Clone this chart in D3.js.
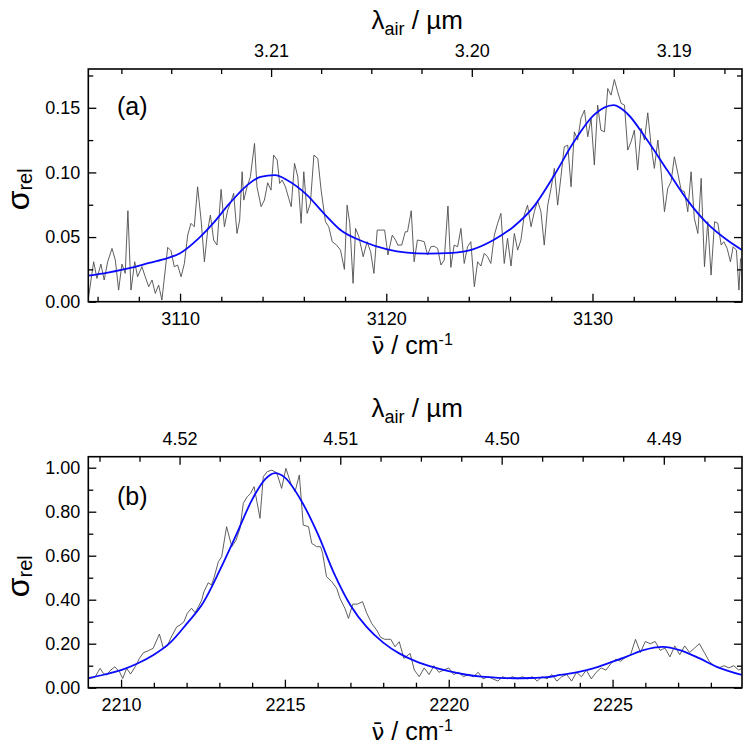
<!DOCTYPE html>
<html><head><meta charset="utf-8">
<script src="https://cdn.jsdelivr.net/npm/d3@7/dist/d3.min.js"></script>
<style>
body{margin:0;background:#fff}
svg{display:block}
text{font-family:"Liberation Sans",Arial,Helvetica,sans-serif;fill:#000}
</style></head>
<body><svg id="chart" width="747" height="746"></svg>
<script>
// ---------------- DATA ----------------
const N_AIR = 1.000273;

// Panel (a): measured spectrum [wavenumber cm-1, sigma_rel]
const spectrumA = [[3105.56,0.0034],[3105.81,0.0309],[3105.97,0.0180],[3106.16,0.0291],[3106.32,0.0168],[3106.49,0.0309],[3106.70,0.0412],[3106.86,0.0322],[3107.02,0.0090],[3107.18,0.0291],[3107.34,0.0219],[3107.47,0.0704],[3107.62,0.0090],[3107.80,0.0309],[3107.94,0.0193],[3108.15,0.0271],[3108.31,0.0193],[3108.48,0.0116],[3108.64,0.0168],[3108.80,0.0064],[3108.96,0.0129],[3109.12,0.0013],[3109.40,0.0420],[3109.56,0.0394],[3109.72,0.0271],[3109.88,0.0284],[3110.05,0.0193],[3110.21,0.0296],[3110.37,0.0515],[3110.53,0.0606],[3110.69,0.0580],[3110.85,0.0889],[3111.02,0.0631],[3111.18,0.0309],[3111.34,0.0554],[3111.47,0.0670],[3111.63,0.0477],[3111.79,0.0438],[3111.99,0.0869],[3112.15,0.0580],[3112.31,0.0709],[3112.44,0.0760],[3112.60,0.0838],[3112.76,0.0528],[3112.89,0.0631],[3113.01,0.1005],[3113.09,0.0786],[3113.25,0.0889],[3113.41,0.0966],[3113.61,0.1224],[3113.73,0.0889],[3113.93,0.0735],[3114.09,0.0786],[3114.25,0.0920],[3114.41,0.0863],[3114.54,0.1134],[3114.71,0.1095],[3114.83,0.0915],[3114.95,0.0941],[3115.11,0.0889],[3115.27,0.0799],[3115.39,0.0735],[3115.55,0.1070],[3115.71,0.0966],[3115.87,0.0606],[3116.00,0.1005],[3116.16,0.0683],[3116.32,0.0760],[3116.49,0.1134],[3116.68,0.1108],[3116.84,0.0863],[3117.05,0.0619],[3117.21,0.0580],[3117.38,0.0464],[3117.59,0.0438],[3117.78,0.0399],[3117.97,0.0250],[3118.10,0.0747],[3118.23,0.0606],[3118.39,0.0142],[3118.51,0.0567],[3118.67,0.0503],[3118.88,0.0348],[3119.07,0.0464],[3119.24,0.0387],[3119.40,0.0219],[3119.56,0.0554],[3119.72,0.0554],[3119.92,0.0554],[3120.08,0.0361],[3120.29,0.0515],[3120.45,0.0477],[3120.56,0.0438],[3120.75,0.0438],[3120.92,0.0541],[3121.03,0.0541],[3121.21,0.0704],[3121.35,0.0309],[3121.51,0.0477],[3121.68,0.0472],[3121.84,0.0464],[3122.00,0.0361],[3122.16,0.0425],[3122.32,0.0430],[3122.49,0.0412],[3122.65,0.0284],[3122.81,0.0322],[3122.99,0.0740],[3123.13,0.0265],[3123.29,0.0438],[3123.46,0.0425],[3123.62,0.0567],[3123.78,0.0296],[3123.94,0.0425],[3124.10,0.0464],[3124.27,0.0116],[3124.43,0.0309],[3124.59,0.0276],[3124.75,0.0374],[3124.91,0.0348],[3125.07,0.0296],[3125.24,0.0515],[3125.40,0.0606],[3125.56,0.0683],[3125.72,0.0296],[3125.88,0.0490],[3126.05,0.0276],[3126.21,0.0528],[3126.37,0.0399],[3126.53,0.0477],[3126.69,0.0670],[3126.85,0.0747],[3127.02,0.0580],[3127.18,0.0696],[3127.34,0.0781],[3127.50,0.0696],[3127.66,0.0438],[3127.83,0.0747],[3127.99,0.0876],[3128.15,0.1031],[3128.31,0.0747],[3128.47,0.0966],[3128.63,0.1198],[3128.80,0.1211],[3128.96,0.0889],[3129.12,0.1314],[3129.28,0.1250],[3129.44,0.1418],[3129.61,0.1482],[3129.77,0.1276],[3129.93,0.1418],[3130.09,0.1057],[3130.25,0.1521],[3130.41,0.1327],[3130.58,0.1314],[3130.74,0.1649],[3130.90,0.1598],[3131.06,0.1719],[3131.22,0.1624],[3131.39,0.1534],[3131.55,0.1521],[3131.71,0.1173],[3131.87,0.1237],[3132.03,0.1327],[3132.19,0.1018],[3132.36,0.1340],[3132.52,0.1250],[3132.68,0.1461],[3132.84,0.1211],[3133.00,0.1031],[3133.17,0.1250],[3133.33,0.1005],[3133.49,0.0696],[3133.65,0.0876],[3133.81,0.0928],[3133.97,0.1121],[3134.14,0.0992],[3134.30,0.0863],[3134.46,0.0851],[3134.62,0.0696],[3134.78,0.1005],[3134.94,0.0644],[3135.11,0.0528],[3135.27,0.0954],[3135.43,0.0271],[3135.59,0.0619],[3135.75,0.0206],[3135.92,0.0619],[3136.08,0.0606],[3136.24,0.0438],[3136.37,0.0464],[3136.53,0.0412],[3136.69,0.0309],[3136.82,0.0425],[3136.98,0.0399],[3137.10,0.0090],[3137.18,0.0335]];

// Panel (a): fitted profile
const fitA = [[3105.55,0.0201],[3106.5,0.0225],[3107.7,0.0265],[3108.5,0.0300],[3109.35,0.0335],[3110.0,0.0375],[3110.9,0.0490],[3111.6,0.0606],[3112.4,0.0760],[3113.25,0.0900],[3113.9,0.0966],[3114.6,0.0979],[3115.2,0.0940],[3116.16,0.0825],[3116.97,0.0683],[3117.78,0.0554],[3118.9,0.0464],[3120.05,0.0405],[3121.0,0.0380],[3122.0,0.0372],[3123.2,0.0378],[3124.2,0.0405],[3125.2,0.0477],[3126.17,0.0580],[3127.15,0.0735],[3128.1,0.0966],[3129.1,0.1237],[3130.06,0.1443],[3131.03,0.1520],[3131.68,0.1456],[3132.65,0.1250],[3133.62,0.1018],[3134.6,0.0786],[3135.56,0.0606],[3136.53,0.0477],[3137.25,0.0400]];

// Panel (b): measured spectrum
const spectrumB = [[2209.03,0.042],[2209.20,0.047],[2209.36,0.088],[2209.46,0.065],[2209.56,0.058],[2209.66,0.077],[2209.81,0.095],[2209.95,0.073],[2210.05,0.042],[2210.17,0.088],[2210.29,0.062],[2210.43,0.095],[2210.56,0.133],[2210.68,0.159],[2210.83,0.168],[2210.98,0.179],[2211.17,0.244],[2211.29,0.179],[2211.41,0.189],[2211.51,0.224],[2211.70,0.277],[2211.80,0.285],[2211.92,0.300],[2212.02,0.338],[2212.15,0.361],[2212.26,0.341],[2212.36,0.368],[2212.46,0.398],[2212.53,0.436],[2212.66,0.477],[2212.76,0.467],[2212.84,0.502],[2212.97,0.573],[2213.07,0.595],[2213.22,0.732],[2213.38,0.641],[2213.51,0.671],[2213.63,0.724],[2213.73,0.838],[2213.85,0.868],[2213.95,0.883],[2214.06,0.914],[2214.14,0.850],[2214.24,0.770],[2214.34,0.959],[2214.46,0.982],[2214.60,0.989],[2214.75,0.977],[2214.90,0.906],[2215.03,0.997],[2215.18,0.929],[2215.31,0.891],[2215.44,0.967],[2215.56,0.739],[2215.72,0.732],[2215.82,0.656],[2215.97,0.641],[2216.09,0.641],[2216.15,0.611],[2216.27,0.505],[2216.43,0.482],[2216.58,0.452],[2216.68,0.406],[2216.83,0.361],[2216.94,0.315],[2217.07,0.380],[2217.21,0.380],[2217.37,0.391],[2217.50,0.338],[2217.65,0.292],[2217.80,0.262],[2217.92,0.229],[2218.05,0.220],[2218.23,0.220],[2218.36,0.186],[2218.49,0.209],[2218.63,0.133],[2218.82,0.156],[2218.95,0.080],[2219.10,0.050],[2219.25,0.090],[2219.40,0.060],[2219.55,0.100],[2219.70,0.070],[2219.85,0.080],[2220.00,0.090],[2220.15,0.060],[2220.30,0.070],[2220.45,0.050],[2220.60,0.060],[2220.75,0.050],[2220.90,0.070],[2221.05,0.040],[2221.20,0.050],[2221.35,0.040],[2221.50,0.030],[2221.65,0.050],[2221.80,0.040],[2221.95,0.050],[2222.10,0.040],[2222.25,0.050],[2222.40,0.040],[2222.55,0.050],[2222.70,0.030],[2222.85,0.050],[2223.00,0.040],[2223.15,0.060],[2223.30,0.030],[2223.45,0.050],[2223.60,0.060],[2223.75,0.030],[2223.90,0.070],[2224.05,0.050],[2224.20,0.080],[2224.35,0.040],[2224.50,0.070],[2224.65,0.090],[2224.80,0.080],[2224.95,0.110],[2225.10,0.130],[2225.25,0.120],[2225.40,0.140],[2225.55,0.150],[2225.70,0.220],[2225.85,0.160],[2226.00,0.210],[2226.15,0.200],[2226.30,0.210],[2226.45,0.170],[2226.60,0.180],[2226.75,0.140],[2226.90,0.190],[2227.05,0.150],[2227.20,0.190],[2227.35,0.160],[2227.50,0.180],[2227.65,0.200],[2227.80,0.160],[2227.95,0.120],[2228.10,0.100],[2228.25,0.090],[2228.40,0.100],[2228.55,0.090],[2228.70,0.100],[2228.85,0.080],[2228.97,0.090]];

// Panel (b): fitted profile
const fitB = [[2209.0,0.044],[2209.5,0.060],[2210.0,0.080],[2210.5,0.110],[2211.0,0.150],[2211.5,0.205],[2212.0,0.290],[2212.5,0.385],[2213.0,0.530],[2213.5,0.690],[2214.0,0.855],[2214.4,0.948],[2214.7,0.975],[2215.0,0.955],[2215.5,0.850],[2216.0,0.700],[2216.5,0.520],[2217.0,0.375],[2217.5,0.275],[2218.0,0.205],[2218.5,0.155],[2219.0,0.120],[2219.5,0.095],[2220.0,0.075],[2220.5,0.060],[2221.0,0.050],[2221.5,0.045],[2222.0,0.043],[2222.5,0.044],[2223.0,0.048],[2223.4,0.058],[2223.9,0.070],[2224.41,0.088],[2224.92,0.114],[2225.43,0.141],[2225.94,0.171],[2226.54,0.186],[2227.05,0.171],[2227.66,0.133],[2228.18,0.095],[2228.95,0.058]];

// Axis ranges & ticks
const xDomainA = [3105.55, 3137.25];
const yDomainA = [0, 0.18];
const xTicksA = [3110, 3120, 3130];
const xMinorA = [3106, 3108, 3112, 3114, 3116, 3118, 3122, 3124, 3126, 3128, 3132, 3134, 3136];
const yTicksA = [0, 0.05, 0.10, 0.15];
const yMinorA = [0.025, 0.075, 0.125, 0.175];
const lamTicksA = [3.21, 3.20, 3.19];
const lamMinorA = [3.2175, 3.215, 3.2125, 3.2075, 3.205, 3.2025, 3.1975, 3.195, 3.1925, 3.1875];

const xDomainB = [2209.0, 2228.95];
const yDomainB = [0, 1.05];
const xTicksB = [2210, 2215, 2220, 2225];
const xMinorB = [2211, 2212, 2213, 2214, 2216, 2217, 2218, 2219, 2221, 2222, 2223, 2224, 2226, 2227, 2228];
const yTicksB = [0, 0.2, 0.4, 0.6, 0.8, 1.0];
const yMinorB = [0.1, 0.3, 0.5, 0.7, 0.9];
const lamTicksB = [4.52, 4.51, 4.50, 4.49];
const lamMinorB = [4.525, 4.5225, 4.5175, 4.515, 4.5125, 4.5075, 4.505, 4.5025, 4.4975, 4.495, 4.4925, 4.4875];

// ---------------- DRAW ----------------
const svg = d3.select("#chart");
const toNu = lam => 1e4 / (lam * N_AIR);

function panel(cfg) {
  const L = 88.3, R = 742, T = cfg.top, B = cfg.bottom;
  const x = d3.scaleLinear().domain(cfg.xDomain).range([L, R]);
  const y = d3.scaleLinear().domain(cfg.yDomain).range([B, T]);
  const g = svg.append("g");

  const clipId = "clip" + cfg.id;
  svg.append("clipPath").attr("id", clipId)
    .append("rect").attr("x", L).attr("y", T).attr("width", R - L).attr("height", B - T);

  const line = d3.line().x(d => x(d[0])).y(d => y(d[1]));
  g.append("path").datum(cfg.spectrum)
    .attr("clip-path", `url(#${clipId})`)
    .attr("fill", "none").attr("stroke", "#4d4d4d").attr("stroke-width", 0.9)
    .attr("d", line);
  g.append("path").datum(cfg.fit)
    .attr("clip-path", `url(#${clipId})`)
    .attr("fill", "none").attr("stroke", "#0a0aff").attr("stroke-width", 1.8)
    .attr("d", line.curve(d3.curveMonotoneX));

  const styleAxis = sel => {
    sel.select(".domain").remove();
    sel.selectAll(".tick line").attr("stroke", "#000").attr("stroke-width", 1.3);
    sel.selectAll("text").style("font-size", "18px").attr("fill", "#000");
  };
  // bottom
  g.append("g").attr("transform", `translate(0,${B})`)
    .call(d3.axisBottom(x).tickValues(cfg.xTicks).tickSize(-8).tickPadding(11).tickFormat(d3.format("d")))
    .call(styleAxis);
  g.append("g").attr("transform", `translate(0,${B})`)
    .call(d3.axisBottom(x).tickValues(cfg.xMinor).tickSize(-5).tickFormat(""))
    .call(styleAxis);
  // top (wavelength in air)
  g.append("g").attr("transform", `translate(0,${T})`)
    .call(d3.axisTop(x).tickValues(cfg.lamTicks.map(toNu)).tickSize(-8).tickPadding(12)
      .tickFormat((d, i) => d3.format(".2f")(cfg.lamTicks[i])))
    .call(styleAxis);
  g.append("g").attr("transform", `translate(0,${T})`)
    .call(d3.axisTop(x).tickValues(cfg.lamMinor.map(toNu)).tickSize(-5).tickFormat(""))
    .call(styleAxis);
  // left
  g.append("g").attr("transform", `translate(${L},0)`)
    .call(d3.axisLeft(y).tickValues(cfg.yTicks).tickSize(-8).tickPadding(8).tickFormat(d3.format(".2f")))
    .call(styleAxis);
  g.append("g").attr("transform", `translate(${L},0)`)
    .call(d3.axisLeft(y).tickValues(cfg.yMinor).tickSize(-5).tickFormat(""))
    .call(styleAxis);
  // right (mirror)
  g.append("g").attr("transform", `translate(${R},0)`)
    .call(d3.axisRight(y).tickValues(cfg.yTicks).tickSize(-8).tickFormat(""))
    .call(styleAxis);
  g.append("g").attr("transform", `translate(${R},0)`)
    .call(d3.axisRight(y).tickValues(cfg.yMinor).tickSize(-5).tickFormat(""))
    .call(styleAxis);

  // frame
  g.append("rect").attr("x", L).attr("y", T).attr("width", R - L).attr("height", B - T)
    .attr("fill", "none").attr("stroke", "#000").attr("stroke-width", 1.6);

  const cx = (L + R) / 2;
  // top title
  const tt = g.append("text").attr("x", cx + 2).attr("y", T - 40).attr("text-anchor", "middle").style("font-size", "26px");
  tt.append("tspan").text("λ");
  tt.append("tspan").text("air").style("font-size", "18px").attr("dy", 6);
  tt.append("tspan").text(" / µm").attr("dy", -6);
  // bottom title: nu-bar / cm^-1
  const bt = g.append("text").attr("x", cx - 3).attr("y", B + 52.3).attr("text-anchor", "middle").style("font-size", "25px");
  bt.append("tspan").text("ν\u0304").style("font-family", "'DejaVu Sans'").style("font-size", "23px");
  bt.append("tspan").text(" / cm");
  bt.append("tspan").text("-1").style("font-size", "16px").attr("dy", -9);
  // y title
  const yt = g.append("text").attr("transform", `translate(28.5,${(T + B) / 2 + 4}) rotate(-90)`)
    .attr("text-anchor", "middle");
  yt.append("tspan").text("σ").style("font-size", "32px");
  yt.append("tspan").text("rel").style("font-size", "20px").attr("dy", 3);
  // panel label
  g.append("text").attr("x", 117).attr("y", cfg.labelY).style("font-size", "25px").text(cfg.label);
}

panel({id: "a", top: 69, bottom: 301.7, spectrum: spectrumA, fit: fitA,
  xDomain: xDomainA, yDomain: yDomainA, xTicks: xTicksA, xMinor: xMinorA,
  yTicks: yTicksA, yMinor: yMinorA, lamTicks: lamTicksA, lamMinor: lamMinorA,
  label: "(a)", labelY: 115});
panel({id: "b", top: 456.7, bottom: 687.7, spectrum: spectrumB, fit: fitB,
  xDomain: xDomainB, yDomain: yDomainB, xTicks: xTicksB, xMinor: xMinorB,
  yTicks: yTicksB, yMinor: yMinorB, lamTicks: lamTicksB, lamMinor: lamMinorB,
  label: "(b)", labelY: 505});
</script></body></html>
